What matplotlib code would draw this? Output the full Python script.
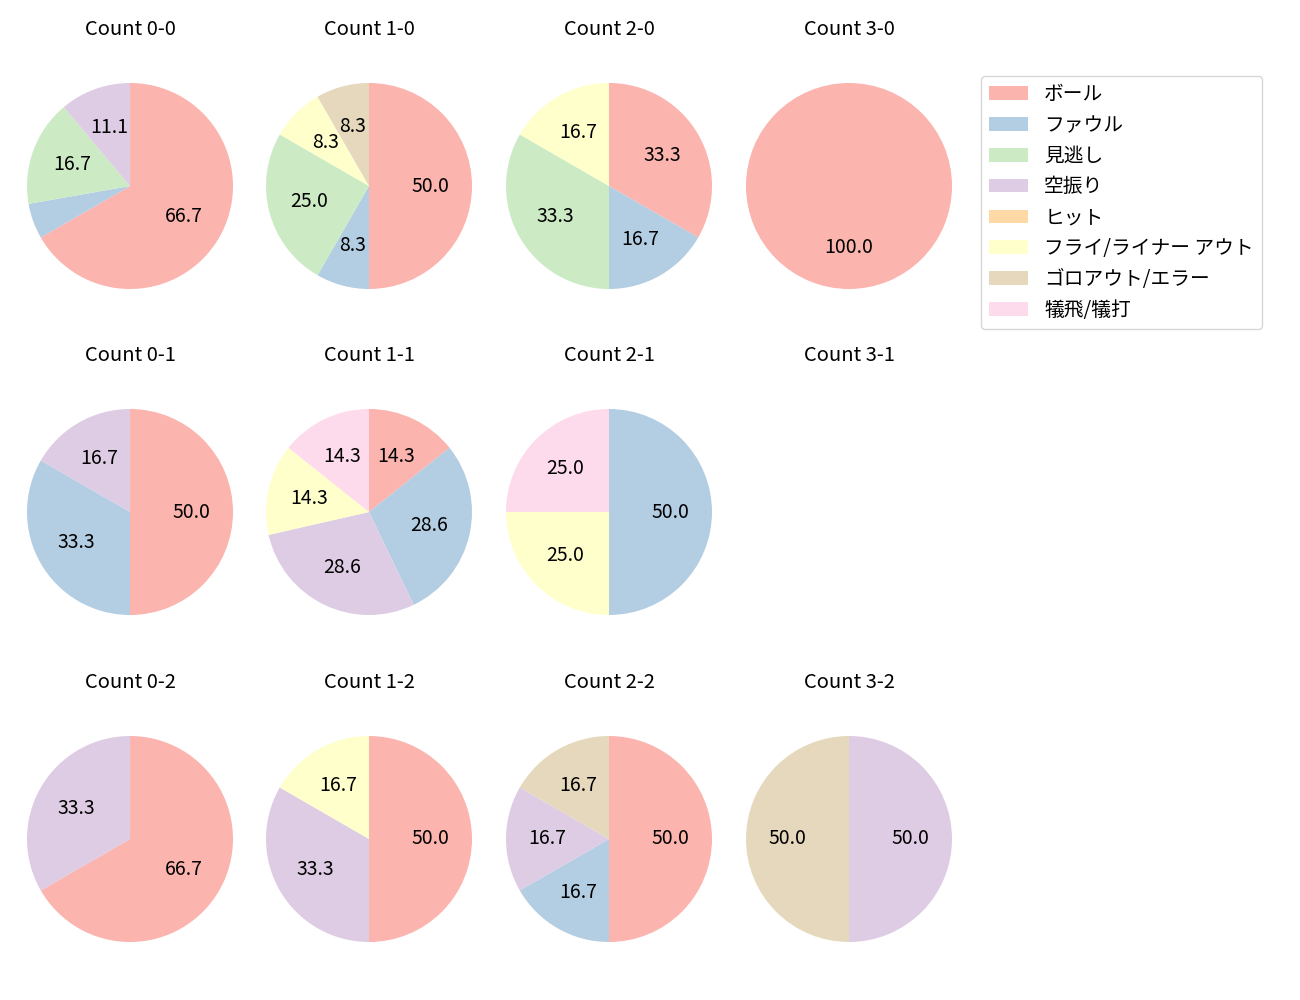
import matplotlib
matplotlib.use("Agg")
from matplotlib import pyplot as plt
from matplotlib.patches import Patch

plt.rcParams['font.family'] = ['Noto Sans CJK JP', 'DejaVu Sans']

labels = ["ボール", "ファウル", "見逃し", "空振り", "ヒット",
          "フライ/ライナー アウト", "ゴロアウト/エラー", "犠飛/犠打"]
colors = ["#fbb4ae", "#b3cde3", "#ccebc5", "#decbe4", "#fed9a6",
          "#ffffcc", "#e5d8bd", "#fddaec"]

# 投球数（カウント別）: ボール, ファウル, 見逃し, 空振り, ヒット, フライ, ゴロ, 犠飛
count_0_0 = [12, 1, 3, 2, 0, 0, 0, 0]
count_1_0 = [6, 1, 3, 0, 0, 1, 1, 0]
count_2_0 = [2, 1, 2, 0, 0, 1, 0, 0]
count_3_0 = [1, 0, 0, 0, 0, 0, 0, 0]
count_0_1 = [3, 2, 0, 1, 0, 0, 0, 0]
count_1_1 = [1, 2, 0, 2, 0, 1, 0, 1]
count_2_1 = [0, 2, 0, 0, 0, 1, 0, 1]
count_3_1 = [0, 0, 0, 0, 0, 0, 0, 0]
count_0_2 = [2, 0, 0, 1, 0, 0, 0, 0]
count_1_2 = [3, 0, 0, 2, 0, 1, 0, 0]
count_2_2 = [3, 1, 0, 1, 0, 0, 1, 0]
count_3_2 = [0, 0, 0, 1, 0, 0, 1, 0]

grid = [
    [("0-0", count_0_0), ("1-0", count_1_0), ("2-0", count_2_0), ("3-0", count_3_0)],
    [("0-1", count_0_1), ("1-1", count_1_1), ("2-1", count_2_1), ("3-1", count_3_1)],
    [("0-2", count_0_2), ("1-2", count_1_2), ("2-2", count_2_2), ("3-2", count_3_2)],
]

W, H = 1300, 1000
col_x = [130, 369, 609, 849]
row_y = [186, 512, 839]
r_px = 103
aw, ah = 240, 288

fig = plt.figure(figsize=(13, 10), dpi=100)

for r, row in enumerate(grid):
    for c, (name, vals) in enumerate(row):
        ax = fig.add_axes([(col_x[c] - aw / 2) / W, 1 - (row_y[r] + ah / 2) / H, aw / W, ah / H])
        ax.set_title("Count " + name, fontsize=14.5, pad=5)
        if sum(vals) == 0:
            ax.axis("off")
            continue
        v = [x for x in vals if x > 0]
        cl = [colors[i] for i, x in enumerate(vals) if x > 0]
        ax.pie(v, colors=cl, startangle=90, counterclock=False,
               autopct=lambda p: f"{p:.1f}" if p >= 7 else "",
               textprops={"fontsize": 14})
        ax.set_aspect("auto")
        ax.set_xlim(-aw / 2 / r_px, aw / 2 / r_px)
        ax.set_ylim(-ah / 2 / r_px, ah / 2 / r_px)

handles = [Patch(facecolor=col, label=lab) for col, lab in zip(colors, labels)]
fig.legend(handles=handles, loc="upper left", bbox_to_anchor=(981 / W, 1 - 76 / H),
           borderaxespad=0, fontsize=14.2, frameon=True)

plt.savefig("out.png", dpi=100)
